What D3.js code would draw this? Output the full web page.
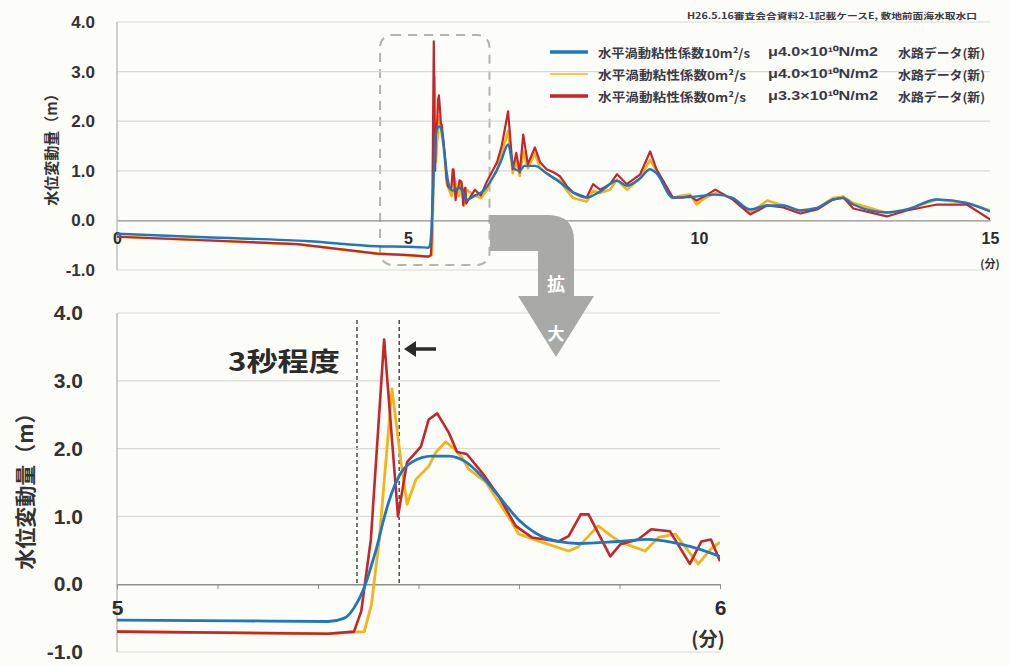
<!DOCTYPE html>
<html>
<head>
<meta charset="utf-8">
<script src="https://cdn.jsdelivr.net/npm/d3@7"></script>
<style>
  html, body { margin: 0; padding: 0; background: #fcfcf8; }
  svg { display: block; }
  text { font-family: 'Liberation Sans', 'Noto Sans CJK JP', sans-serif; font-weight: bold; fill: #333; }
  .jp { font-family: 'Noto Sans CJK JP', 'Liberation Sans', sans-serif; }
</style>
</head>
<body>
<svg id="chart" width="1010" height="666"></svg>
<script>
// ---- series: time (minutes) and water level change (m) ----
const blueT = [0, 1.5, 3.3, 4.47, 5.0, 5.2, 5.35, 5.377, 5.393, 5.41, 5.421, 5.431, 5.443, 5.455, 5.468, 5.489, 5.522, 5.55, 5.579, 5.605, 5.633, 5.666, 5.699, 5.732, 5.765, 5.831, 5.881, 5.919, 5.964, 6.0,
  6.15, 6.3, 6.45, 6.6, 6.72, 6.82, 6.92, 7.0, 7.18, 7.38, 7.61, 7.84, 8.07, 8.3, 8.59, 8.76, 8.99, 9.16, 9.27, 9.55, 9.85, 10.28, 10.58, 10.88, 11.17, 11.45, 11.74, 12.03, 12.3, 12.48, 12.65, 13.23, 13.57, 14.09, 14.6, 15.0];
const blueV = [-0.27, -0.34, -0.42, -0.52, -0.53, -0.54, -0.55, -0.5, -0.35, -0.05, 0.25, 0.55, 0.98, 1.33, 1.6, 1.8, 1.89, 1.89, 1.8, 1.59, 1.3, 0.95, 0.73, 0.63, 0.6, 0.63, 0.66, 0.62, 0.52, 0.41,
  0.5, 0.6, 0.85, 1.2, 1.53, 1.05, 1.0, 1.1, 1.1, 0.95, 0.77, 0.56, 0.46, 0.58, 0.8, 0.7, 0.85, 1.03, 0.95, 0.46, 0.47, 0.52, 0.45, 0.22, 0.3, 0.3, 0.2, 0.25, 0.42, 0.45, 0.32, 0.16, 0.22, 0.42, 0.35, 0.18];

const yellowT = [0, 1.5, 3.1, 4.47, 5.0, 5.35, 5.41, 5.422, 5.435, 5.456, 5.471, 5.481, 5.496, 5.517, 5.529, 5.545, 5.559, 5.572, 5.583, 5.612, 5.655, 5.666, 5.704, 5.749, 5.765, 5.798, 5.82, 5.835, 5.876, 5.898, 5.926, 5.964, 5.985, 6.0,
  6.15, 6.25, 6.35, 6.44, 6.53, 6.61, 6.72, 6.8, 6.86, 6.92, 6.98, 7.06, 7.18, 7.27, 7.38, 7.5, 7.61, 7.73, 7.84, 8.07, 8.18, 8.3, 8.47, 8.59, 8.76, 8.99, 9.16, 9.27, 9.55, 9.7, 9.85, 9.96, 10.1, 10.28, 10.58, 10.88, 11.17, 11.45, 11.74, 12.03, 12.3, 12.48, 12.65, 13.23, 13.57, 14.09, 14.6, 15.0];
const yellowV = [-0.33, -0.4, -0.48, -0.67, -0.7, -0.73, -0.7, -0.3, 0.66, 2.88, 1.8, 1.18, 1.55, 1.74, 1.95, 2.1, 2.0, 1.87, 1.7, 1.5, 0.91, 0.74, 0.62, 0.49, 0.55, 0.86, 0.71, 0.62, 0.49, 0.69, 0.74, 0.3, 0.52, 0.62,
  0.5, 0.45, 0.6, 0.85, 1.0, 1.35, 1.8, 0.95, 1.2, 0.9, 1.4, 1.05, 1.35, 1.05, 0.95, 0.85, 0.8, 0.6, 0.45, 0.38, 0.6, 0.55, 0.62, 0.82, 0.62, 0.85, 1.22, 1.0, 0.45, 0.5, 0.52, 0.32, 0.45, 0.55, 0.45, 0.15, 0.4, 0.3, 0.2, 0.25, 0.45, 0.48, 0.35, 0.15, 0.22, 0.42, 0.35, 0.2];

const redT = [0, 1.5, 3.1, 4.47, 5.0, 5.35, 5.393, 5.405, 5.421, 5.443, 5.466, 5.481, 5.504, 5.517, 5.531, 5.55, 5.564, 5.58, 5.605, 5.633, 5.661, 5.688, 5.732, 5.749, 5.769, 5.782, 5.818, 5.835, 5.864, 5.886, 5.917, 5.95, 5.969, 5.985, 6.0,
  6.15, 6.25, 6.35, 6.44, 6.53, 6.61, 6.72, 6.8, 6.86, 6.92, 6.98, 7.06, 7.18, 7.27, 7.38, 7.5, 7.61, 7.73, 7.84, 8.07, 8.18, 8.3, 8.47, 8.59, 8.76, 8.99, 9.16, 9.27, 9.55, 9.7, 9.85, 9.96, 10.1, 10.28, 10.58, 10.88, 11.17, 11.45, 11.74, 12.03, 12.3, 12.48, 12.65, 13.23, 13.57, 14.09, 14.6, 15.0];
const redV = [-0.33, -0.4, -0.48, -0.67, -0.7, -0.73, -0.7, -0.4, 0.66, 3.61, 1.0, 1.8, 2.03, 2.43, 2.52, 2.24, 1.95, 1.92, 1.65, 1.3, 0.86, 0.69, 0.63, 0.71, 1.03, 1.03, 0.41, 0.59, 0.66, 0.81, 0.78, 0.3, 0.63, 0.66, 0.34,
  0.62, 0.5, 0.77, 0.97, 1.17, 1.5, 2.2, 1.03, 1.36, 0.97, 1.73, 1.13, 1.47, 1.17, 1.03, 0.97, 0.89, 0.69, 0.56, 0.46, 0.73, 0.62, 0.73, 0.93, 0.73, 0.93, 1.39, 1.03, 0.46, 0.46, 0.49, 0.4, 0.49, 0.62, 0.42, 0.12, 0.3, 0.26, 0.14, 0.22, 0.42, 0.46, 0.24, 0.08, 0.2, 0.32, 0.32, 0.02];

// ---- axis ticks and labels ----
const yTicks = [-1, 0, 1, 2, 3, 4];
const xTicksTop = [0, 5, 10, 15];
const xTicksBottom = [5, 6];
const legendNames = ["水平渦動粘性係数10m²/s", "水平渦動粘性係数0m²/s", "水平渦動粘性係数0m²/s"];
const legendMu = ["μ4.0×10¹⁰N/m2", "μ4.0×10¹⁰N/m2", "μ3.3×10¹⁰N/m2"];
const legendData = ["水路データ(新)", "水路データ(新)", "水路データ(新)"];
const yTitle = "水位変動量（m）";
const unitLabel = "(分)";
const sourceNote = "H26.5.16審査会合資料2-1記載ケースE, 敷地前面海水取水口";
const delayNote = "3秒程度";
const delayTimes = [5.398, 5.468];

const colors = { blue: "#1f77c0", yellow: "#f6b318", red: "#c3262c" };
const series = [
  { key: "yellow", t: yellowT, v: yellowV },
  { key: "red", t: redT, v: redV },
  { key: "blue", t: blueT, v: blueV }
];

const svg = d3.select("#chart");
const fmt = d => d.toFixed(1);

function drawPanel(cfg) {
  const g = svg.append("g");
  const x = cfg.x, y = cfg.y;
  const [x0, x1] = x.range();
  const [yb, yt] = y.range();

  // horizontal grid
  g.append("g")
    .selectAll("line")
    .data(yTicks.filter(d => d !== 0))
    .join("line")
    .attr("x1", x0).attr("x2", x1)
    .attr("y1", d => y(d)).attr("y2", d => y(d))
    .attr("stroke", "#d9d9d6").attr("stroke-width", 1.2);

  // y axis line
  g.append("line").attr("x1", x0).attr("x2", x0).attr("y1", yt).attr("y2", yb)
    .attr("stroke", "#b0b0ac").attr("stroke-width", 1.2);

  // y tick labels
  const ya = d3.axisLeft(y).tickValues(yTicks).tickFormat(fmt).tickSize(0).tickPadding(cfg.yPad);
  const yg = g.append("g").attr("transform", `translate(${x0},0)`).call(ya);
  yg.select(".domain").remove();
  yg.selectAll("text").attr("font-size", cfg.yFont).style("fill", "#333")
    .attr("font-family", "'Liberation Sans', sans-serif").attr("font-weight", "bold");

  // zero line with x axis
  const xa = d3.axisBottom(x).tickValues(cfg.xTicks).tickFormat(d3.format("d")).tickSize(0).tickPadding(cfg.xPad);
  const xg = g.append("g").attr("transform", `translate(0,${y(0)})`).call(xa);
  xg.select(".domain").attr("stroke", "#8e8e8a").attr("stroke-width", 1.4);
  xg.selectAll("text").attr("font-size", cfg.xFont).style("fill", "#2b2b2b")
    .attr("font-family", "'Liberation Sans', sans-serif").attr("font-weight", "bold");

  if (cfg.minor) {
    const ma = d3.axisBottom(x).tickValues(cfg.minor).tickFormat("").tickSize(5);
    const mg = g.append("g").attr("transform", `translate(0,${y(0)})`).call(ma);
    mg.select(".domain").remove();
    mg.selectAll("line").attr("stroke", "#8e8e8a");
  }

  // series
  const clipId = "clip-" + cfg.name;
  svg.append("clipPath").attr("id", clipId).append("rect")
    .attr("x", x0).attr("y", yt - 10).attr("width", x1 - x0).attr("height", yb - yt + 20);
  const lineGen = d3.line().x(d => x(d[0])).y(d => y(d[1]));
  const lg = g.append("g").attr("clip-path", `url(#${clipId})`);
  series.forEach(s => {
    const pts = s.t.map((t, i) => [t, s.v[i]]).filter(p => p[0] >= x.domain()[0] - 1e-9 && p[0] <= x.domain()[1] + 1e-9);
    lg.append("path").datum(pts)
      .attr("fill", "none")
      .attr("stroke", colors[s.key])
      .attr("stroke-width", cfg.lineW[s.key])
      .attr("stroke-linejoin", "round")
      .attr("d", s.key === "blue" ? lineGen.curve(d3.curveMonotoneX)(pts) : lineGen.curve(d3.curveLinear)(pts));
  });

  // y title
  g.append("text").attr("class", "jp")
    .attr("transform", `translate(${cfg.titleX},${cfg.titleY}) rotate(-90)`)
    .attr("text-anchor", "middle").attr("dominant-baseline", "central")
    .attr("font-size", cfg.titleFont)
    .text(yTitle);

  // unit label
  g.append("text").attr("class", "jp")
    .attr("x", cfg.unitX).attr("y", cfg.unitY)
    .attr("text-anchor", "middle").attr("dominant-baseline", "central")
    .attr("font-size", cfg.unitFont)
    .text(unitLabel);

  return g;
}

// ---- upper panel: 0 to 15 min ----
const xTop = d3.scaleLinear().domain([0, 15]).range([117, 990]);
const yTop = d3.scaleLinear().domain([-1, 4]).range([270, 22]);

// dashed box marking the enlarged window (behind the lines)
svg.append("rect")
  .attr("x", xTop(4.52)).attr("y", 35)
  .attr("width", xTop(6.4) - xTop(4.52)).attr("height", 230)
  .attr("rx", 12).attr("ry", 12)
  .attr("fill", "none").attr("stroke", "#b3b3b0").attr("stroke-width", 2)
  .attr("stroke-dasharray", "9,7");

drawPanel({
  name: "top", x: xTop, y: yTop, xTicks: xTicksTop,
  yPad: 22, yFont: 17, xPad: 12, xFont: 16,
  lineW: { blue: 2.4, yellow: 2.6, red: 2.2 },
  titleX: 50, titleY: 146, titleFont: 15,
  unitX: 990, unitY: 263, unitFont: 11
});

// ---- lower panel: 5 to 6 min ----
const xBot = d3.scaleLinear().domain([5, 6]).range([117, 720]);
const yBot = d3.scaleLinear().domain([-1, 4]).range([652, 313]);

// guide lines bracketing the arrival gap
svg.append("g").selectAll("line").data(delayTimes).join("line")
  .attr("x1", d => xBot(d)).attr("x2", d => xBot(d))
  .attr("y1", 320).attr("y2", yBot(0))
  .attr("stroke", "#4a4a4a").attr("stroke-width", 1.5).attr("stroke-dasharray", "4,3");

drawPanel({
  name: "bottom", x: xBot, y: yBot, xTicks: xTicksBottom,
  minor: d3.range(0, 7).map(i => 5 + i / 6),
  yPad: 34, yFont: 21, xPad: 16, xFont: 21,
  lineW: { blue: 2.8, yellow: 2.8, red: 2.6 },
  titleX: 24, titleY: 486, titleFont: 21,
  unitX: 708, unitY: 637, unitFont: 19
});

// ---- legend ----
const legendKeys = ["blue", "yellow", "red"];
const legendRows = [52, 74, 96];
const lgd = svg.append("g");
legendKeys.forEach((k, i) => {
  const yy = legendRows[i];
  lgd.append("line").attr("x1", 550).attr("x2", 588).attr("y1", yy).attr("y2", yy)
    .attr("stroke", colors[k]).attr("stroke-width", k === "yellow" ? 1.6 : 3.5);
  lgd.append("text").attr("class", "jp").attr("x", 598).attr("y", yy).attr("dominant-baseline", "central")
    .attr("font-size", 12).attr("textLength", i === 0 ? 152 : 148).attr("lengthAdjust", "spacingAndGlyphs")
    .style("fill", "#3a3a44").text(legendNames[i]);
  lgd.append("text").attr("x", 768).attr("y", yy).attr("dominant-baseline", "central")
    .attr("font-size", 12).attr("textLength", 110).attr("lengthAdjust", "spacingAndGlyphs")
    .style("fill", "#3a3a44").text(legendMu[i]);
  lgd.append("text").attr("class", "jp").attr("x", 898).attr("y", yy).attr("dominant-baseline", "central")
    .attr("font-size", 12).attr("textLength", 87).attr("lengthAdjust", "spacingAndGlyphs")
    .style("fill", "#3a3a44").text(legendData[i]);
});

// source note
svg.append("text").attr("class", "jp").attr("x", 687).attr("y", 15).attr("dominant-baseline", "central")
  .attr("font-size", 8.5).attr("textLength", 290).attr("lengthAdjust", "spacingAndGlyphs")
  .style("fill", "#3a3a44").text(sourceNote);

// ---- bent "enlarge" arrow ----
svg.append("path")
  .attr("d", "M490,215 L548,215 Q574,215 574,241 L574,296 L594,296 L556,357 L518,296 L538,296 L538,251 L490,251 Z")
  .attr("fill", "#a9a9a7");
svg.append("text").attr("class", "jp").attr("x", 556).attr("y", 283).attr("text-anchor", "middle")
  .attr("dominant-baseline", "central").attr("font-size", 18).style("fill", "#ffffff").text("拡");
svg.append("text").attr("class", "jp").attr("x", 556).attr("y", 332).attr("text-anchor", "middle")
  .attr("dominant-baseline", "central").attr("font-size", 17).style("fill", "#ffffff").text("大");

// ---- delay annotation ----
svg.append("text").attr("class", "jp").attr("x", 228).attr("y", 359).attr("dominant-baseline", "central")
  .attr("font-size", 26).attr("textLength", 112).attr("lengthAdjust", "spacingAndGlyphs")
  .style("fill", "#2b2b2b").text(delayNote);
svg.append("line").attr("x1", 436).attr("x2", 412).attr("y1", 349).attr("y2", 349)
  .attr("stroke", "#2b2b2b").attr("stroke-width", 3.5);
svg.append("path").attr("d", "M404,349 L416,341 L416,357 Z").attr("fill", "#2b2b2b");
</script>
</body>
</html>
